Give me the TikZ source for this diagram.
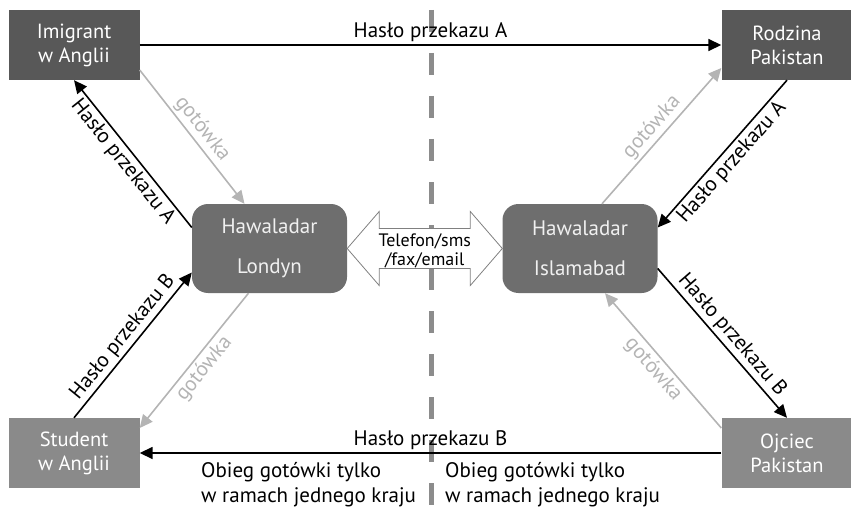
\documentclass[tikz,border=0pt]{standalone}
\usepackage{fontspec}
\setmainfont{PT Sans}
\usepackage{tikz}
\usetikzlibrary{arrows.meta, positioning, calc}

\definecolor{boxdark}{HTML}{585858}
\definecolor{boxlight}{HTML}{8A8A8A}
\definecolor{boxmid}{HTML}{6E6E6E}
\definecolor{cashgray}{HTML}{B4B4B4}
\definecolor{dividergray}{HTML}{8C8C8C}

\begin{document}
\begin{tikzpicture}[
    x=1pt, y=-1pt,
    personbox/.style={rectangle, minimum width=131, minimum height=70, inner sep=0pt, align=center, text=white, font=\fontsize{20.5}{24}\selectfont},
    agentbox/.style={rectangle, rounded corners=16pt, fill=boxmid, minimum width=155, minimum height=89, inner sep=0pt, align=center, text=white!94!black, font=\fontsize{21}{40}\selectfont},
    codearrow/.style={-{Triangle[length=13pt, width=12pt]}, line width=1.6pt, black},
    casharrow/.style={-{Triangle[length=13pt, width=12pt]}, line width=1.6pt, cashgray},
    codelabel/.style={font=\fontsize{21}{24}\selectfont, inner sep=2.5pt},
    cashlabel/.style={font=\fontsize{21}{24}\selectfont, text=cashgray, inner sep=2.5pt},
    notetext/.style={font=\fontsize{21}{25}\selectfont, align=left, inner sep=0pt}
  ]
    \useasboundingbox (0,0) rectangle (851,508);

    % Border line between the countries
    \coordinate (divtop) at (431,10);
    \coordinate (divbottom) at (431,508);
    \draw[dividergray, line width=5pt, dash pattern=on 22pt off 21pt] (divtop) -- (divbottom);

    % People
    \node[personbox, fill=boxdark] (imigrant) at (74,45) {Imigrant\\w Anglii};
    \node[personbox, fill=boxdark] (rodzina) at (787,45) {Rodzina\\Pakistan};
    \node[personbox, fill=boxlight] (student) at (74,453) {Student\\w Anglii};
    \node[personbox, fill=boxlight] (ojciec) at (787,453) {Ojciec\\Pakistan};

    % Hawaladars
    \node[agentbox] (londyn) at (269.5,248.5) {Hawaladar\\Londyn};
    \node[agentbox] (islamabad) at (580,248.5) {Hawaladar\\Islamabad};

    % Link between hawaladars
    \draw[gray, fill=white, line width=0.8pt, line join=miter]
      (londyn.east) -- ++(32,-37) -- ++(0,17) -- ($(islamabad.west)+(-32,-20)$) -- ++(0,-17)
      -- (islamabad.west) -- ++(-32,37) -- ++(0,-17) -- ($(londyn.east)+(32,20)$) -- ++(0,17) -- cycle;
    \node[font=\fontsize{18}{19}\selectfont, align=center, inner sep=0pt] (linktext)
      at ($(londyn.east)!0.5!(islamabad.west)+(0,2)$) {Telefon/sms\\/fax/email};

    % Code A
    \draw[codearrow] (imigrant.east) -- node[codelabel, above] {Hasło przekazu A} (rodzina.west);
    \draw[codearrow] ([yshift=21pt]londyn.west) -- node[codelabel, sloped, below] {Hasło przekazu A} (imigrant.south);
    \draw[codearrow] (rodzina.south) -- node[codelabel, sloped, below] {Hasło przekazu A} ([yshift=21pt]islamabad.east);

    % Code B
    \draw[codearrow] (ojciec.west) -- node[codelabel, above] {Hasło przekazu B} (student.east);
    \draw[codearrow] (student.north) -- node[codelabel, sloped, above] {Hasło przekazu B} ([yshift=-24pt]londyn.west);
    \draw[codearrow] ([yshift=-20pt]islamabad.east) -- node[codelabel, sloped, above] {Hasło przekazu B} (ojciec.north);

    % Cash
    \draw[casharrow] ([yshift=-25pt]imigrant.east) -- node[cashlabel, sloped, above] {gotówka} ([xshift=-25pt]londyn.north);
    \draw[casharrow] ([xshift=-21pt]londyn.south) -- node[cashlabel, sloped, below] {gotówka} ([yshift=25pt]student.east);
    \draw[casharrow] ([xshift=22pt]islamabad.north) -- node[cashlabel, sloped, above] {gotówka} ([yshift=-23pt]rodzina.west);
    \draw[casharrow] ([yshift=25pt]ojciec.west) -- node[cashlabel, sloped, below] {gotówka} ([xshift=25pt]islamabad.south);

    % Notes
    \node[notetext, anchor=north west] (noteleft) at (201,462) {Obieg gotówki tylko\\w ramach jednego kraju};
    \node[notetext, anchor=north west] (noteright) at (445,462) {Obieg gotówki tylko\\w ramach jednego kraju};
\end{tikzpicture}
\end{document}
